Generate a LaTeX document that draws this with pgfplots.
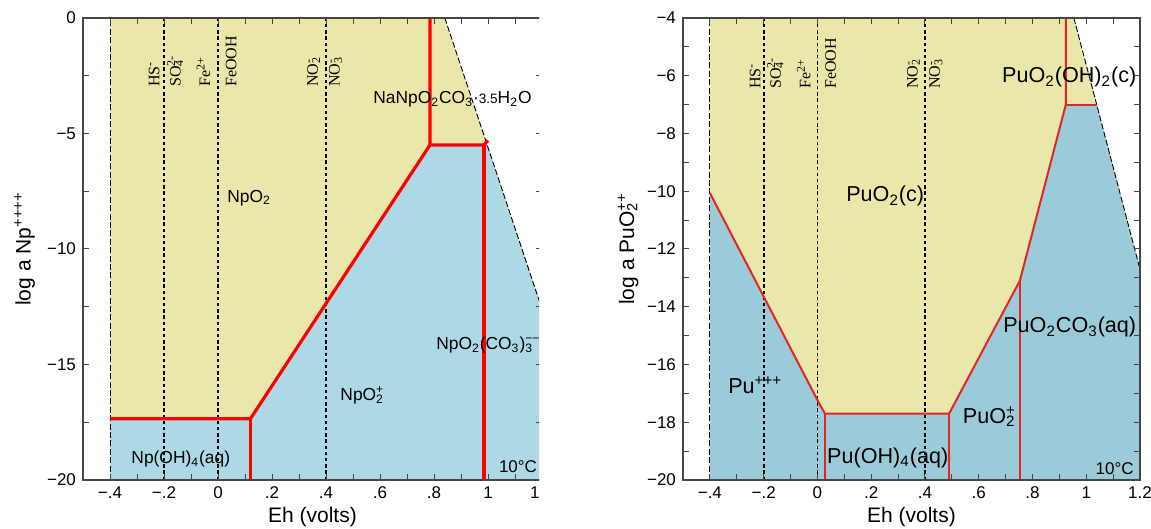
\documentclass[border=0pt]{standalone}
\usepackage{fontspec}
\setmainfont{Liberation Sans}
\newfontfamily\serifl{Liberation Serif}
\usepackage{pgfplots}
\pgfplotsset{compat=1.18}

\definecolor{ylw}{RGB}{233,232,170}
\definecolor{bluel}{RGB}{173,216,230}
\definecolor{bluer}{RGB}{155,202,216}
\definecolor{redr}{RGB}{226,38,38}
\definecolor{axgray}{RGB}{70,70,70}

\newcommand{\subsup}[2]{\rlap{\textsubscript{#1}}\textsuperscript{#2}}
\newcommand{\labl}{\fontsize{8.7}{10}\selectfont}
\newcommand{\labr}{\fontsize{10.8}{12}\selectfont}
\newcommand{\rdxf}{\serifl\fontsize{8}{9}\selectfont}

\pgfplotsset{
  eh/.style={
    scale only axis, height=231pt, anchor=south west,
    xmin=-0.5, xmax=1.2,
    xtick={-0.4,-0.2,0,0.2,0.4,0.6,0.8,1,1.2},
    xticklabels={−.4,−.2,0,.2,.4,.6,.8,1,1.2},
    minor xtick={-0.3,-0.1,0.1,0.3,0.5,0.7,0.9,1.1},
    tick align=inside, major tick length=3pt, minor tick length=3pt,
    tick style={axgray, line width=0.5pt},
    axis line style={axgray, line width=0.6pt},
    ticklabel style={font=\fontsize{8.5}{9}\selectfont},
    label style={font=\fontsize{10.5}{12}\selectfont},
    xlabel={Eh (volts)},
    xlabel style={at={(axis description cs:0.5,-0.093)}, anchor=base},
    axis on top, clip mode=individual,
  },
  bnd/.style={black, line width=0.45pt, dash pattern=on 3pt off 1.2pt},
  rdx/.style={black, line width=0.9pt, dash pattern=on 1.7pt off 1.4pt},
}

\begin{document}
\begin{tikzpicture}
\useasboundingbox (0,0) rectangle (575.5pt,264.5pt);

% Np panel
\begin{scope}
\clip (0,0) rectangle (269.6pt,264.5pt);
\begin{axis}[eh, at={(41.5pt,24.5pt)}, width=229.5pt,
    ymin=-20, ymax=0,
    ytick={-20,-15,-10,-5,0}, yticklabels={−20,−15,−10,−5,0},
    minor ytick={-17.5,-12.5,-7.5,-2.5},
    ylabel={log a Np\textsuperscript{++++}},
    ylabel style={at={(axis description cs:-0.127,0.5)}, anchor=center},
  ]
  \addplot[fill=ylw, draw=none] coordinates {(-0.4,0) (0.84,0) (0.997,-5.5) (0.785,-5.5) (0.12,-17.35) (-0.4,-17.35)} -- cycle;
  \addplot[fill=bluel, draw=none] coordinates {(-0.4,-17.35) (0.12,-17.35) (0.785,-5.5) (0.997,-5.5) (1.2,-12.6) (1.2,-20) (-0.4,-20)} -- cycle;

  \addplot[bnd] coordinates {(-0.4,-20) (-0.4,0)};
  \addplot[bnd] coordinates {(0.84,0) (1.2,-12.6)};
  \addplot[rdx] coordinates {(-0.2,-20) (-0.2,0)};
  \addplot[rdx] coordinates {(0,-20) (0,0)};
  \addplot[rdx] coordinates {(0.4,-20) (0.4,0)};

  \addplot[red, line width=1.6pt] coordinates {(-0.4,-17.35) (0.12,-17.35) (0.785,-5.5) (0.785,0)};
  \addplot[red, line width=1.6pt] coordinates {(0.12,-17.35) (0.12,-20)};
  \addplot[red, line width=1.6pt] coordinates {(0.785,-5.5) (0.985,-5.5) (1.0,-5.3)};
  \addplot[red, line width=1.6pt] coordinates {(0.985,-5.5) (0.985,-20)};

  \node[rotate=90, anchor=south west, inner sep=0, font=\rdxf] at (axis cs:-0.215,-3) {HS\textsuperscript{-}};
  \node[rotate=90, anchor=north west, inner sep=0, font=\rdxf] at (axis cs:-0.19,-3) {SO\subsup{4}{2-}};
  \node[rotate=90, anchor=south west, inner sep=0, font=\rdxf] at (axis cs:-0.027,-3) {Fe\textsuperscript{2+}};
  \node[rotate=90, anchor=north west, inner sep=0, font=\rdxf] at (axis cs:0.027,-3) {FeOOH};
  \node[rotate=90, anchor=south west, inner sep=0, font=\rdxf] at (axis cs:0.38,-3) {NO\subsup{2}{-}};
  \node[rotate=90, anchor=north west, inner sep=0, font=\rdxf] at (axis cs:0.41,-3) {NO\subsup{3}{-}};

  \node[anchor=base west, inner sep=0, font=\labl] at (axis cs:0.033,-7.97) {NpO\textsubscript{2}};
  \node[anchor=base west, inner sep=0, font=\labl] at (axis cs:0.574,-3.72) {NaNpO\textsubscript{2}CO\textsubscript{3}·{\fontsize{6.8}{7}\selectfont 3.5}H\textsubscript{2}O};
  \node[anchor=base west, inner sep=0, font=\labl] at (axis cs:0.452,-16.58) {NpO\subsup{2}{+}};
  \node[anchor=base west, inner sep=0, font=\labl] at (axis cs:0.807,-14.37) {NpO\textsubscript{2}(CO\textsubscript{3})\subsup{3}{−−}};
  \node[anchor=base west, inner sep=0, font=\labl] at (axis cs:-0.322,-19.3) {Np(OH)\textsubscript{4}(aq)};
  \node[anchor=south east, inner sep=0, font=\fontsize{8.5}{9}\selectfont] at (axis description cs:0.99,0.014) {10°C};
\end{axis}
\end{scope}

% Pu panel
\begin{axis}[eh, at={(341.5pt,24.5pt)}, width=228.5pt,
    ymin=-20, ymax=-4,
    ytick={-20,-18,-16,-14,-12,-10,-8,-6,-4},
    yticklabels={−20,−18,−16,−14,−12,−10,−8,−6,−4},
    minor ytick={-19,-17,-15,-13,-11,-9,-7,-5},
    ylabel={log a PuO\subsup{2}{++}},
    ylabel style={at={(axis description cs:-0.12,0.5)}, anchor=center},
  ]
  \addplot[fill=ylw, draw=none] coordinates {(-0.4,-4) (0.954,-4) (1.039,-7) (0.924,-7) (0.753,-13.1) (0.49,-17.7) (0.028,-17.7) (0.009,-17.39) (-0.4,-10.06)} -- cycle;
  \addplot[fill=bluer, draw=none] coordinates {(-0.4,-10.06) (0.009,-17.39) (0.028,-17.7) (0.49,-17.7) (0.753,-13.1) (0.924,-7) (1.039,-7) (1.2,-12.7) (1.2,-20) (-0.4,-20)} -- cycle;

  \addplot[bnd] coordinates {(-0.4,-20) (-0.4,-4)};
  \addplot[bnd] coordinates {(0.954,-4) (1.2,-12.7)};
  \addplot[rdx] coordinates {(-0.2,-20) (-0.2,-4)};
  \addplot[rdx] coordinates {(0,-20) (0,-4)};
  \addplot[rdx] coordinates {(0.4,-20) (0.4,-4)};

  \addplot[redr, line width=1pt] coordinates {(-0.4,-10.06) (0.009,-17.39) (0.028,-17.7) (0.49,-17.7) (0.753,-13.1) (0.924,-7) (0.924,-4)};
  \addplot[redr, line width=1pt] coordinates {(0.924,-7) (1.039,-7)};
  \addplot[redr, line width=1pt] coordinates {(0.028,-17.7) (0.028,-20)};
  \addplot[redr, line width=1pt] coordinates {(0.49,-17.7) (0.49,-20)};
  \addplot[redr, line width=1pt] coordinates {(0.753,-13.1) (0.753,-20)};

  \node[rotate=90, anchor=south west, inner sep=0, font=\rdxf] at (axis cs:-0.21,-6.46) {HS\textsuperscript{-}};
  \node[rotate=90, anchor=north west, inner sep=0, font=\rdxf] at (axis cs:-0.188,-6.46) {SO\subsup{4}{2-}};
  \node[rotate=90, anchor=south west, inner sep=0, font=\rdxf] at (axis cs:-0.024,-6.46) {Fe\textsuperscript{2+}};
  \node[rotate=90, anchor=north west, inner sep=0, font=\rdxf] at (axis cs:0.028,-6.46) {FeOOH};
  \node[rotate=90, anchor=south west, inner sep=0, font=\rdxf] at (axis cs:0.383,-6.46) {NO\subsup{2}{-}};
  \node[rotate=90, anchor=north west, inner sep=0, font=\rdxf] at (axis cs:0.415,-6.46) {NO\subsup{3}{-}};

  \node[anchor=base west, inner sep=0, font=\labr] at (axis cs:0.106,-10.37) {PuO\textsubscript{2}(c)};
  \node[anchor=base west, inner sep=0, font=\labr] at (axis cs:0.686,-6.25) {PuO\textsubscript{2}(OH)\textsubscript{2}(c)};
  \node[anchor=base west, inner sep=0, font=\labr] at (axis cs:-0.333,-17.01) {Pu\textsuperscript{+++}};
  \node[anchor=base west, inner sep=0, font=\labr] at (axis cs:0.035,-19.43) {Pu(OH)\textsubscript{4}(aq)};
  \node[anchor=base west, inner sep=0, font=\labr] at (axis cs:0.54,-18.05) {PuO\subsup{2}{+}};
  \node[anchor=base west, inner sep=0, font=\labr] at (axis cs:0.69,-14.9) {PuO\textsubscript{2}CO\textsubscript{3}(aq)};
  \node[anchor=south east, inner sep=0, font=\fontsize{8.5}{9}\selectfont] at (axis description cs:0.987,0.011) {10°C};
\end{axis}
\end{tikzpicture}
\end{document}
